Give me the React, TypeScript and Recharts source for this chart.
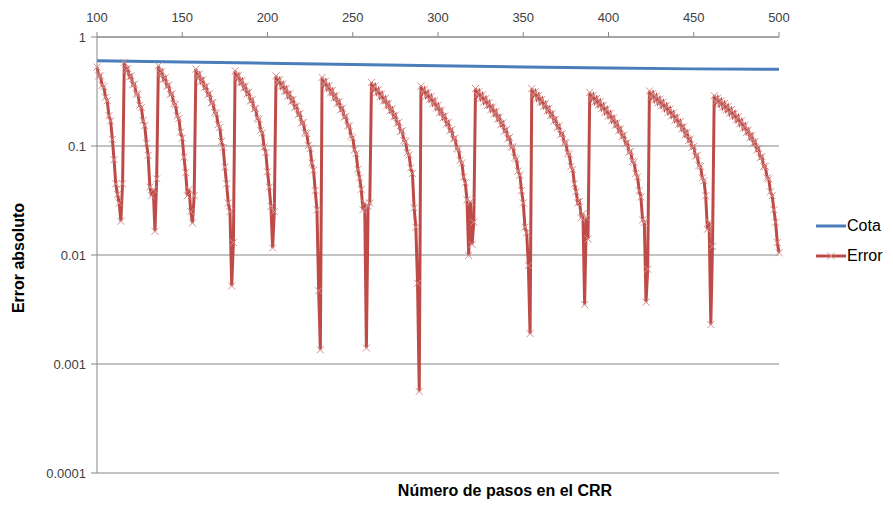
import React from "react";
import { LineChart, Line, XAxis, YAxis, CartesianGrid } from "recharts";

// pasos del CRR
const firstStep = 100;
const xTicks = [100, 150, 200, 250, 300, 350, 400, 450, 500];
const yTicks = [0.0001, 0.001, 0.01, 0.1, 1];
const yTickLabels = ["0.0001", "0.001", "0.01", "0.1", "1"];

// cota, read every 50 steps
const cotaSteps = [100, 150, 200, 250, 300, 350, 400, 450, 500];
const cotaValues = [0.605, 0.59, 0.575, 0.56, 0.545, 0.53, 0.52, 0.51, 0.505];

// error absoluto, one value per step, split at each jump
const errSegA = [0.53, 0.44, 0.44, 0.36, 0.35, 0.28, 0.26, 0.19, 0.17, 0.115, 0.075, 0.045, 0.036, 0.03, 0.0204, 0.045];
const errSegB = [0.585, 0.494, 0.513, 0.429, 0.441, 0.365, 0.37, 0.3, 0.298, 0.236, 0.226, 0.171, 0.154, 0.106, 0.082, 0.042, 0.035, 0.04, 0.0165, 0.05];
const errSegC = [0.545, 0.463, 0.484, 0.408, 0.423, 0.353, 0.362, 0.298, 0.301, 0.244, 0.24, 0.189, 0.179, 0.134, 0.118, 0.079, 0.057, 0.035, 0.04, 0.025, 0.0197, 0.035];
const errSegD = [0.508, 0.434, 0.457, 0.388, 0.405, 0.342, 0.354, 0.295, 0.302, 0.249, 0.251, 0.203, 0.2, 0.157, 0.148, 0.11, 0.097, 0.064, 0.045, 0.03, 0.025, 0.0052, 0.013];
const errSegE = [0.49, 0.421, 0.445, 0.381, 0.4, 0.34, 0.356, 0.3, 0.311, 0.259, 0.266, 0.219, 0.221, 0.179, 0.176, 0.139, 0.132, 0.098, 0.087, 0.058, 0.042, 0.028, 0.0116, 0.025];
const errSegF = [0.44, 0.381, 0.405, 0.349, 0.371, 0.318, 0.337, 0.287, 0.302, 0.257, 0.268, 0.225, 0.233, 0.194, 0.199, 0.163, 0.164, 0.132, 0.13, 0.101, 0.095, 0.07, 0.06, 0.039, 0.026, 0.0047, 0.00135];
const errSegG = [0.426, 0.368, 0.392, 0.338, 0.358, 0.307, 0.324, 0.276, 0.29, 0.246, 0.256, 0.215, 0.222, 0.184, 0.187, 0.153, 0.153, 0.123, 0.119, 0.092, 0.085, 0.061, 0.051, 0.04, 0.026, 0.03, 0.0014, 0.028, 0.03];
const errSegH = [0.383, 0.332, 0.356, 0.308, 0.328, 0.283, 0.301, 0.259, 0.274, 0.234, 0.247, 0.21, 0.219, 0.185, 0.192, 0.161, 0.165, 0.136, 0.138, 0.112, 0.11, 0.087, 0.083, 0.063, 0.056, 0.027, 0.018, 0.0055, 0.00056];
const errSegI = [0.355, 0.309, 0.331, 0.287, 0.308, 0.266, 0.284, 0.245, 0.26, 0.223, 0.236, 0.202, 0.213, 0.181, 0.189, 0.159, 0.165, 0.138, 0.141, 0.116, 0.118, 0.095, 0.094, 0.074, 0.07, 0.052, 0.046, 0.032, 0.0099, 0.031, 0.0125, 0.02];
const errSegJ = [0.337, 0.293, 0.315, 0.274, 0.294, 0.254, 0.272, 0.235, 0.25, 0.215, 0.228, 0.196, 0.207, 0.176, 0.185, 0.157, 0.163, 0.137, 0.141, 0.117, 0.12, 0.098, 0.098, 0.078, 0.076, 0.059, 0.054, 0.039, 0.03, 0.018, 0.016, 0.008, 0.0019];
const errSegK = [0.337, 0.293, 0.314, 0.272, 0.291, 0.252, 0.268, 0.231, 0.245, 0.21, 0.222, 0.19, 0.199, 0.169, 0.176, 0.148, 0.153, 0.127, 0.13, 0.107, 0.107, 0.086, 0.084, 0.065, 0.061, 0.045, 0.038, 0.03, 0.031, 0.022, 0.024, 0.0035, 0.022, 0.014];
const errSegL = [0.31, 0.271, 0.292, 0.254, 0.273, 0.238, 0.255, 0.221, 0.236, 0.204, 0.218, 0.188, 0.2, 0.171, 0.181, 0.155, 0.163, 0.138, 0.144, 0.122, 0.126, 0.105, 0.108, 0.088, 0.089, 0.072, 0.071, 0.056, 0.052, 0.039, 0.034, 0.021, 0.02, 0.0037, 0.0074];
const errSegM = [0.32, 0.28, 0.303, 0.265, 0.286, 0.25, 0.269, 0.234, 0.252, 0.219, 0.235, 0.204, 0.218, 0.189, 0.201, 0.173, 0.184, 0.158, 0.167, 0.143, 0.15, 0.127, 0.133, 0.112, 0.116, 0.097, 0.099, 0.081, 0.082, 0.066, 0.065, 0.051, 0.048, 0.035, 0.0172, 0.02, 0.0023, 0.012];
const errSegN = [0.29, 0.254, 0.275, 0.241, 0.26, 0.227, 0.245, 0.214, 0.23, 0.2, 0.215, 0.187, 0.2, 0.173, 0.185, 0.16, 0.17, 0.146, 0.155, 0.133, 0.14, 0.119, 0.125, 0.106, 0.11, 0.092, 0.095, 0.078, 0.08, 0.065, 0.065, 0.051, 0.05, 0.038, 0.035, 0.026, 0.02, 0.013, 0.0105];

const errorValues = [
  ...errSegA, ...errSegB, ...errSegC, ...errSegD, ...errSegE, ...errSegF, ...errSegG,
  ...errSegH, ...errSegI, ...errSegJ, ...errSegK, ...errSegL, ...errSegM, ...errSegN,
];

const series = [
  { key: "cota", name: "Cota", color: "#4A7EBB" },
  { key: "error", name: "Error", color: "#BE4B48" },
];

const data = errorValues.map((v, i) => {
  const n = firstStep + i;
  const ci = cotaSteps.indexOf(n);
  return { n, error: v, cota: ci >= 0 ? cotaValues[ci] : null };
});

const font = '"Liberation Sans", Arial, sans-serif';
const gridColor = "#878787";
const markerColor = "#D68E8B";

function CrossDot(props: any) {
  const { cx, cy, index } = props;
  if (cx == null || cy == null) return <g key={index} />;
  const s = 3.5;
  return (
    <path
      key={index}
      d={`M${cx - s},${cy - s}L${cx + s},${cy + s}M${cx - s},${cy + s}L${cx + s},${cy - s}`}
      stroke={markerColor}
      strokeWidth={1}
      fill="none"
    />
  );
}

export default function App() {
  return (
    <div style={{ position: "relative", width: 877, height: 494, fontFamily: font, background: "#fff" }}>
      <LineChart width={877} height={494} data={data} margin={{ top: 9, right: 106, bottom: 29, left: 29 }}>
        <CartesianGrid vertical={false} stroke={gridColor} strokeWidth={1} />
        <XAxis
          dataKey="n"
          type="number"
          orientation="top"
          domain={[100, 500]}
          ticks={xTicks}
          height={20}
          tickSize={5}
          tickMargin={10}
          axisLine={{ stroke: gridColor }}
          tickLine={{ stroke: gridColor }}
          tick={{ fill: "#404040", fontSize: 13, fontFamily: font }}
        />
        <YAxis
          type="number"
          scale="log"
          domain={[0.0001, 1]}
          allowDataOverflow
          ticks={yTicks}
          width={60}
          tickSize={6}
          tickMargin={5}
          tickFormatter={(v: number) => yTickLabels[yTicks.indexOf(v)] ?? String(v)}
          axisLine={{ stroke: gridColor }}
          tickLine={{ stroke: gridColor }}
          tick={{ fill: "#404040", fontSize: 13, fontFamily: font }}
        />
        <Line
          dataKey="cota"
          name="Cota"
          stroke={series[0].color}
          strokeWidth={3}
          dot={false}
          connectNulls
          isAnimationActive={false}
        />
        <Line
          dataKey="error"
          name="Error"
          stroke={series[1].color}
          strokeWidth={3}
          dot={CrossDot}
          activeDot={false}
          isAnimationActive={false}
        />
      </LineChart>

      <div
        style={{
          position: "absolute",
          left: 11,
          top: 250,
          transform: "translate(-50%, -50%) rotate(-90deg)",
          fontWeight: "bold",
          fontSize: 16,
          whiteSpace: "nowrap",
          color: "#000",
        }}
      >
        Error absoluto
      </div>
      <div
        style={{
          position: "absolute",
          left: 497,
          top: 483,
          transform: "translate(-50%, -50%)",
          fontWeight: "bold",
          fontSize: 16,
          whiteSpace: "nowrap",
          color: "#000",
        }}
      >
        Número de pasos en el CRR
      </div>

      <div style={{ position: "absolute", left: 808, top: 203 }}>
        {series.map((s) => (
          <div key={s.key} style={{ display: "flex", alignItems: "center", height: 30 }}>
            <svg width={31} height={12} style={{ flexShrink: 0 }}>
              <line x1={0} y1={6} x2={30} y2={6} stroke={s.color} strokeWidth={3} />
              {s.key === "error" && (
                <path d="M11.5,2.5L18.5,9.5M11.5,9.5L18.5,2.5" stroke={markerColor} strokeWidth={1} />
              )}
            </svg>
            <span style={{ fontSize: 16, color: "#000", whiteSpace: "nowrap" }}>{s.name}</span>
          </div>
        ))}
      </div>
    </div>
  );
}
